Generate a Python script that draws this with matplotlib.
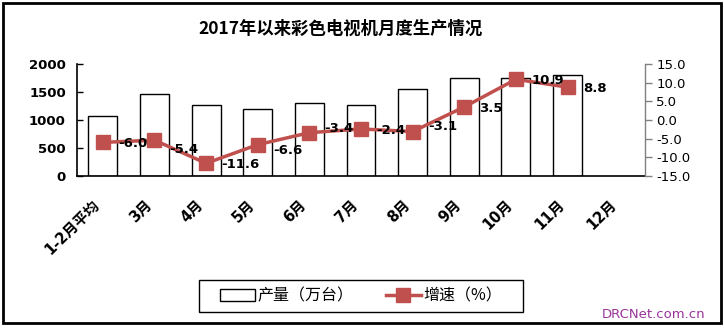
import numpy as np
import matplotlib
matplotlib.use("Agg")
import matplotlib.pyplot as plt
from matplotlib.patches import Rectangle

plt.rcParams["font.family"] = ["DejaVu Sans", "Noto Sans CJK SC"]
plt.rcParams["axes.unicode_minus"] = False

CATEGORIES = ["1-2月平均", "3月", "4月", "5月", "6月", "7月", "8月", "9月", "10月", "11月", "12月"]
OUTPUT = [1066, 1459, 1262, 1190, 1298, 1262, 1548, 1744, 1744, 1803]   # 产量（万台）
GROWTH = [-6.0, -5.4, -11.6, -6.6, -3.4, -2.4, -3.1, 3.5, 10.9, 8.8]    # 增速（%）

# label nudges (points), layout only
LABEL_DY = [-1, -7, -1, -4, 3, -1, 4, -1, -1, -1]

W, H = 724, 328
fig = plt.figure(figsize=(W / 100, H / 100), dpi=100)
ax = fig.add_axes([77 / W, 1 - 176 / H, (645 - 77) / W, (176 - 64) / H])
ax2 = ax.twinx()

x = np.arange(len(CATEGORIES))
xb = np.arange(len(OUTPUT))
bars = ax.bar(xb, OUTPUT, width=0.56, color="white", edgecolor="black", linewidth=1.0,
              label="产量（万台）", zorder=2)
ax.set_xlim(-0.5, len(CATEGORIES) - 0.5)
ax.set_ylim(0, 2000)
ax.set_yticks([0, 500, 1000, 1500, 2000])
ax.tick_params(axis="y", direction="in", length=4, width=1, labelsize=9.5, pad=8)
for lb in ax.get_yticklabels():
    lb.set_fontweight("bold")
ax.set_xticks(x)
ax.set_xticklabels(CATEGORIES, rotation=45, ha="right", va="top", fontsize=10.5,
                   fontweight="bold")
ax.tick_params(axis="x", length=0, pad=15)
ax.spines["top"].set_visible(False)
ax.spines["right"].set_visible(False)
ax.spines["left"].set_linewidth(1.2)
ax.spines["bottom"].set_linewidth(1.2)

xl = np.arange(len(GROWTH))
line, = ax2.plot(xl, GROWTH, color="#C0504D", lw=2.5, marker="s", markersize=9.5,
                 label="增速（%）", zorder=3)
ax2.set_ylim(-15, 15)
ax2.set_yticks(np.arange(-15, 16, 5))
ax2.set_yticklabels([f"{v:.1f}" for v in np.arange(-15, 16, 5)])
ax2.tick_params(axis="y", direction="out", length=5, width=1, color="#808080",
                labelsize=9.5, pad=3)
for s in ["top", "left", "bottom"]:
    ax2.spines[s].set_visible(False)
ax2.spines["right"].set_color("#808080")
ax2.spines["right"].set_linewidth(1.0)

for xi, v, dy in zip(xl, GROWTH, LABEL_DY):
    ax2.annotate(f"{v:.1f}", (xi, v), xytext=(11, dy), textcoords="offset points",
                 ha="left", va="center", fontsize=9.5, fontweight="bold", zorder=4)

fig.text(341 / W, 1 - 29 / H, "2017年以来彩色电视机月度生产情况", ha="center", va="center",
         fontsize=12.5, fontweight="bold", family=["Noto Sans CJK SC", "DejaVu Sans"])

leg = fig.legend([bars, line], ["产量（万台）", "增速（%）"], loc="center",
                 bbox_to_anchor=(361 / W, 1 - 296 / H), ncol=2, frameon=False,
                 handlelength=2.2, handleheight=0.8,
                 columnspacing=2.0, handletextpad=0.15, borderpad=0.35,
                 borderaxespad=0, prop={"family": ["Noto Sans CJK SC", "DejaVu Sans"], "size": 11.5})

# legend box drawn separately (wider side padding than matplotlib allows)
fig.patches.append(Rectangle((199 / W, 1 - 312 / H), 324 / W, 32 / H, transform=fig.transFigure,
                             fill=False, edgecolor="black", linewidth=1.0))

fig.text(705 / W, 1 - 315 / H, "DRCNet.com.cn", ha="right", va="center", fontsize=9.5,
         color="#993399")

fig.patches.append(Rectangle((3 / W, 1 - 323 / H), 718 / W, 320 / H, transform=fig.transFigure,
                             fill=False, edgecolor="black", linewidth=2.0))

fig.savefig("out.png", dpi=100)
